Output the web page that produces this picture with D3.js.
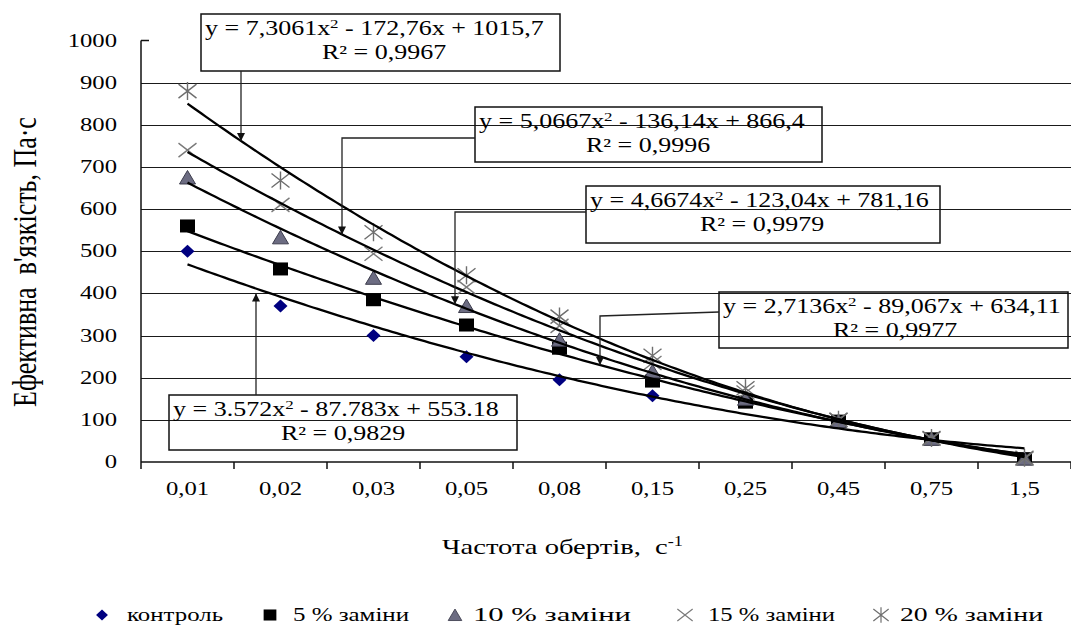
<!DOCTYPE html>
<meta charset="utf-8">
<script src="https://d3js.org/d3.v7.min.js"></script>
<style>
  body { margin: 0; background: #fff; }
  text { font-family: "Liberation Serif", "Times New Roman", serif; fill: #000; white-space: pre; }
</style>
<body>
  <div id="chart"></div>
</body>
<script>
  // categories (rotation frequency, s^-1)
  const categories = ["0,01", "0,02", "0,03", "0,05", "0,08", "0,15", "0,25", "0,45", "0,75", "1,5"];
  const seriesNames = ["контроль", "5 % заміни", "10 % заміни", "15 % заміни", "20 % заміни"];

  // effective viscosity, Pa·s
  const control = [500, 370, 300, 250, 195, 157, 145, 95, 55, 10];
  const pct5    = [560, 458, 385, 325, 270, 192, 142, 97, 55, 8];
  const pct10   = [675, 533, 437, 370, 290, 215, 150, 97, 55, 8];
  const pct15   = [740, 610, 494, 415, 323, 235, 165, 100, 55, 8];
  const pct20   = [880, 668, 545, 443, 345, 252, 175, 100, 57, 10];

  const yTicks = [0, 100, 200, 300, 400, 500, 600, 700, 800, 900, 1000];

  // polynomial trendlines as printed on the chart (x = category index 1..10)
  const trendCoef = [
    [3.572, -87.783, 553.18],
    [2.7136, -89.067, 634.11],
    [4.6674, -123.04, 781.16],
    [5.0667, -136.14, 866.4],
    [7.3061, -172.76, 1015.7]
  ];
  const trendEq = [
    "y = 3.572x^2 - 87.783x + 553.18",
    "y = 2,7136x^2 - 89,067x + 634,11",
    "y = 4,6674x^2 - 123,04x + 781,16",
    "y = 5,0667x^2 - 136,14x + 866,4",
    "y = 7,3061x^2 - 172,76x + 1015,7"
  ];
  const trendR2 = ["R² = 0,9829", "R² = 0,9977", "R² = 0,9979", "R² = 0,9996", "R² = 0,9967"];

  const values = [control, pct5, pct10, pct15, pct20];

  var W = 1071, H = 626, SX = 1.3;
  var plot = {left: 141, right: 1071, top: 40.5, bottom: 462};

  const svg = d3.select("#chart").append("svg")
    .attr("width", W).attr("height", H);

  svg.append("defs").append("marker")
    .attr("id", "arr")
    .attr("viewBox", "0 0 10 10")
    .attr("refX", 10).attr("refY", 5)
    .attr("markerWidth", 9).attr("markerHeight", 8)
    .attr("markerUnits", "userSpaceOnUse")
    .attr("orient", "auto")
    .append("path").attr("d", "M0,0L10,5L0,10Z").attr("fill", "#111");

  const x = d3.scaleBand().domain(categories).range([plot.left, plot.right]);
  const xi = d3.scaleLinear().domain([0.5, categories.length + 0.5]).range([plot.left, plot.right]);
  const y = d3.scaleLinear().domain([0, 1000]).range([plot.bottom, plot.top]);

  function txt(g, s, px, py, o) {
    o = o || {};
    var t = g.append("text")
      .attr("transform", `translate(${px},${py}) scale(${o.sx || SX},1)` + (o.rot ? ` rotate(${o.rot})` : ""))
      .attr("text-anchor", o.anchor || "start")
      .style("font-size", (o.size || 19) + "px");
    if (s != null) t.text(s);
    return t;
  }

  // gridlines
  svg.append("g").selectAll("line")
    .data(yTicks.filter(v => v > 0 && v < 1000))
    .join("line")
      .attr("x1", plot.left).attr("x2", plot.right)
      .attr("y1", d => Math.round(y(d)) + 0.5).attr("y2", d => Math.round(y(d)) + 0.5)
      .attr("stroke", "#1a1a1a").attr("stroke-width", 1.1);

  // y axis
  svg.append("line")
    .attr("x1", plot.left).attr("x2", plot.left)
    .attr("y1", y(1000)).attr("y2", y(0))
    .attr("stroke", "#111").attr("stroke-width", 1.5);
  svg.append("line")
    .attr("x1", plot.left).attr("x2", plot.left + 8)
    .attr("y1", y(1000)).attr("y2", y(1000))
    .attr("stroke", "#111").attr("stroke-width", 1.5);
  yTicks.forEach(v => txt(svg, String(v), 117, y(v) + 6, {anchor: "end"}));

  // x axis
  svg.append("line")
    .attr("x1", plot.left).attr("x2", plot.right)
    .attr("y1", y(0)).attr("y2", y(0))
    .attr("stroke", "#111").attr("stroke-width", 1.5);
  svg.append("g").selectAll("line")
    .data(categories.concat(["end"]))
    .join("line")
      .attr("x1", (d, i) => plot.left + i * x.bandwidth())
      .attr("x2", (d, i) => plot.left + i * x.bandwidth())
      .attr("y1", y(0)).attr("y2", y(0) + 7)
      .attr("stroke", "#111").attr("stroke-width", 1.5);
  categories.forEach(c => txt(svg, c, x(c) + x.bandwidth() / 2, 495, {anchor: "middle"}));

  // axis titles
  var xt = txt(svg, null, 442, 554, {size: 22});
  xt.append("tspan").text("Частота обертів,  с");
  xt.append("tspan").attr("dy", -8).style("font-size", "14px").text("-1");

  txt(svg, "Ефективна  в'язкість, Па·с", 36, 262, {size: 26, rot: -90, anchor: "middle"});

  // markers
  function marker(g, k, cx, cy, s) {
    s = s || 1;
    var m = g.append("g").attr("transform", `translate(${cx},${cy}) scale(${s})`);
    if (k === 0) {
      m.append("path").attr("d", "M0,-6.5L7,0L0,6.5L-7,0Z").attr("fill", "#000080");
    } else if (k === 1) {
      m.append("rect").attr("x", -7.5).attr("y", -6.5).attr("width", 15).attr("height", 13).attr("fill", "#000");
    } else if (k === 2) {
      m.append("path").attr("d", "M0,-7L8,6.5L-8,6.5Z").attr("fill", "#6c6c82").attr("stroke", "#3c3c4c").attr("stroke-width", 1);
    } else if (k === 3) {
      m.append("path").attr("d", "M-9,-7L9,7M-9,7L9,-7").attr("stroke", "#7a7a7a").attr("stroke-width", 1.4).attr("fill", "none");
    } else {
      m.append("path").attr("d", "M-9,-7L9,7M-9,7L9,-7M0,-9L0,9").attr("stroke", "#6e6e6e").attr("stroke-width", 1.4).attr("fill", "none");
    }
  }

  const gm = svg.append("g");
  values.forEach((vals, k) => {
    vals.forEach((v, i) => marker(gm, k, x(categories[i]) + x.bandwidth() / 2, y(v)));
  });

  // trendlines
  function poly(c, t) { return c[0] * t * t + c[1] * t + c[2]; }
  const ts = d3.range(1, categories.length + 0.001, 0.05);
  const line = d3.line().x(t => xi(t));
  svg.append("g").selectAll("path")
    .data(trendCoef)
    .join("path")
      .attr("d", c => line.y(t => y(poly(c, t)))(ts))
      .attr("fill", "none").attr("stroke", "#000").attr("stroke-width", 2.3);

  // callouts with equations
  const callouts = [
    {s: 4, box: [201, 14, 359, 57], r2x: 384, path: [[241, 71]], tipX: 241},
    {s: 3, box: [475, 107, 347, 55], r2x: 648, path: [[475, 138], [342, 138]], tipX: 342},
    {s: 2, box: [586, 186, 354, 57], r2x: 762, path: [[586, 212], [455, 212]], tipX: 455},
    {s: 1, box: [719, 292, 349, 56], r2x: 895, path: [[719, 312], [600, 316]], tipX: 600},
    {s: 0, box: [169, 395, 348, 55], r2x: 343, path: [[256, 395]], tipX: 256, up: true}
  ];
  const gc = svg.append("g");
  callouts.forEach(c => {
    var b = c.box;
    gc.append("rect").attr("x", b[0]).attr("y", b[1]).attr("width", b[2]).attr("height", b[3])
      .attr("fill", "none").attr("stroke", "#111").attr("stroke-width", 1.5);
    var parts = trendEq[c.s].split("^2");
    var t1 = txt(gc, null, b[0] + 4, b[1] + 21, {size: 20});
    t1.append("tspan").text(parts[0]);
    t1.append("tspan").attr("dy", -7).style("font-size", "13px").text("2");
    t1.append("tspan").attr("dy", 7).text(parts[1]);
    txt(gc, trendR2[c.s], c.r2x, b[1] + 45, {size: 20, anchor: "middle"});

    var tipY = y(poly(trendCoef[c.s], xi.invert(c.tipX))) + (c.up ? 5 : 0);
    var pts = c.path.concat([[c.tipX, tipY]]);
    gc.append("path").attr("d", d3.line()(pts))
      .attr("fill", "none").attr("stroke", "#222").attr("stroke-width", 1.3)
      .attr("marker-end", "url(#arr)");
  });

  // legend
  const legX = [[102, 127, 96], [270, 293, 116], [455, 473, 158], [685, 708, 127], [881, 900, 143]];
  seriesNames.forEach((n, k) => {
    marker(svg, k, legX[k][0], 615, 0.85);
    txt(svg, n, legX[k][1], 621)
      .attr("textLength", legX[k][2] / SX)
      .attr("lengthAdjust", "spacingAndGlyphs");
  });
</script>
